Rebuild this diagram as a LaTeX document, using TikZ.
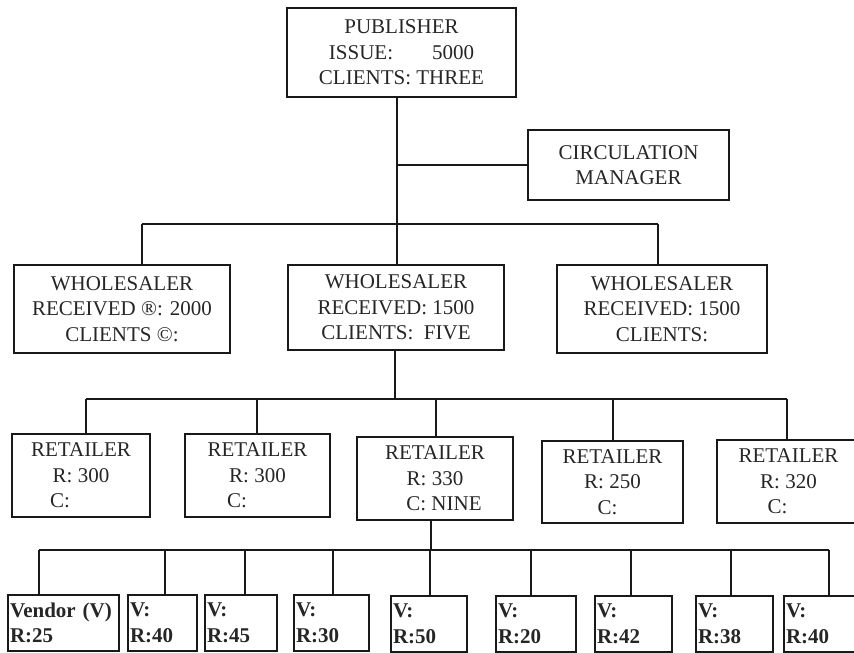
\documentclass[tikz,border=0pt]{standalone}
\usepackage{fontspec}
\setmainfont{Liberation Serif}
\begin{document}
\begin{tikzpicture}[x=1pt,y=-1pt,
  every node/.style={font=\fontsize{21}{25.5}\selectfont, text=black!85},
  box/.style={draw=black!90, line width=1.6pt, inner sep=0pt, align=center},
  vbox/.style={draw=black!90, line width=1.6pt, inner xsep=2pt, inner ysep=0pt, align=left, font=\fontsize{21}{25.5}\selectfont\bfseries},
  link/.style={draw=black!90, line width=1.6pt}]
\useasboundingbox (0,0) rectangle (854,653);
\clip (0,0) rectangle (854,653);
% top
\node[box, minimum width=229pt, minimum height=89pt] (pub) at (401.5,52.5) {PUBLISHER\\ISSUE:\hspace{39pt}5000\\CLIENTS: THREE};
\node[box, minimum width=201pt, minimum height=70pt] (cm) at (628.5,165) {CIRCULATION\\MANAGER};
% wholesalers
\node[box, minimum width=216pt, minimum height=88pt] (w1) at (122,309) {WHOLESALER\\RECEIVED ®: 2000\\CLIENTS ©:};
\node[box, minimum width=216pt, minimum height=85pt] (w2) at (396,307.5) {WHOLESALER\\RECEIVED: 1500\\CLIENTS:\ \ FIVE};
\node[box, minimum width=210pt, minimum height=88pt] (w3) at (662,309) {WHOLESALER\\RECEIVED: 1500\\CLIENTS:};
% retailers
\node[box, minimum width=138pt, minimum height=83pt] (r1) at (81,475.5) {RETAILER\\R: 300\\C:\hspace*{42pt}};
\node[box, minimum width=145pt, minimum height=83pt] (r2) at (257.5,475.5) {RETAILER\\R: 300\\C:\hspace*{41pt}};
\node[box, minimum width=156pt, minimum height=83pt] (r3) at (435,478.5) {RETAILER\\R: 330\\\hspace*{18pt}C: NINE};
\node[box, minimum width=141pt, minimum height=82pt] (r4) at (612.5,482) {RETAILER\\R: 250\\C:\hspace*{10pt}};
\node[box, minimum width=143pt, minimum height=83pt] (r5) at (788.5,481.5) {RETAILER\\R: 320\\C:\hspace*{22pt}};
% vendors
\node[vbox, text width=107pt, minimum height=56pt] (v1) at (63.5,623) {Vendor (V)\\R:25};
\node[vbox, text width=65pt, minimum height=56pt] (v2) at (162.5,623) {V:\\R:40};
\node[vbox, text width=68pt, minimum height=56pt] (v3) at (241,623) {V:\\R:45};
\node[vbox, text width=71pt, minimum height=56pt] (v4) at (331.5,623) {V:\\R:30};
\node[vbox, text width=72pt, minimum height=56pt] (v5) at (429,624) {V:\\R:50};
\node[vbox, text width=76pt, minimum height=56pt] (v6) at (536,624) {V:\\R:20};
\node[vbox, text width=73pt, minimum height=56pt] (v7) at (633.5,624) {V:\\R:42};
\node[vbox, text width=73pt, minimum height=56pt] (v8) at (734.5,624) {V:\\R:38};
\node[vbox, text width=72pt, minimum height=56pt] (v9) at (822,624) {V:\\R:40};
% junction coordinates
\coordinate (b0) at (397,224);
\coordinate (bl) at (142,224);
\coordinate (br) at (658,224);
\coordinate (c0) at (395,399);
\coordinate (c1) at (86,399);
\coordinate (c2) at (257,399);
\coordinate (c3) at (436,399);
\coordinate (c4) at (613,399);
\coordinate (c5) at (787,399);
\coordinate (d0) at (431,550);
\coordinate (e1) at (39,550);
\coordinate (e2) at (165,550);
\coordinate (e3) at (245,550);
\coordinate (e4) at (333,550);
\coordinate (e5) at (430,550);
\coordinate (e6) at (531,550);
\coordinate (e7) at (631,550);
\coordinate (e8) at (731,550);
\coordinate (e9) at (829,550);
% publisher level
\draw[link] (pub.south -| b0) -- (b0);
\draw[link] (b0 |- cm.west) -- (cm.west);
\draw[link] (bl) -- (br);
\draw[link] (bl) -- (bl |- w1.north);
\draw[link] (b0) -- (b0 |- w2.north);
\draw[link] (br) -- (br |- w3.north);
% wholesaler to retailers
\draw[link] (w2.south -| c0) -- (c0);
\draw[link] (c1) -- (c5);
\draw[link] (c1) -- (c1 |- r1.north);
\draw[link] (c2) -- (c2 |- r2.north);
\draw[link] (c3) -- (c3 |- r3.north);
\draw[link] (c4) -- (c4 |- r4.north);
\draw[link] (c5) -- (c5 |- r5.north);
% retailer to vendors
\draw[link] (r3.south -| d0) -- (d0);
\draw[link] (e1) -- (e9);
\draw[link] (e1) -- (e1 |- v1.north);
\draw[link] (e2) -- (e2 |- v2.north);
\draw[link] (e3) -- (e3 |- v3.north);
\draw[link] (e4) -- (e4 |- v4.north);
\draw[link] (e5) -- (e5 |- v5.north);
\draw[link] (e6) -- (e6 |- v6.north);
\draw[link] (e7) -- (e7 |- v7.north);
\draw[link] (e8) -- (e8 |- v8.north);
\draw[link] (e9) -- (e9 |- v9.north);
\end{tikzpicture}
\end{document}
